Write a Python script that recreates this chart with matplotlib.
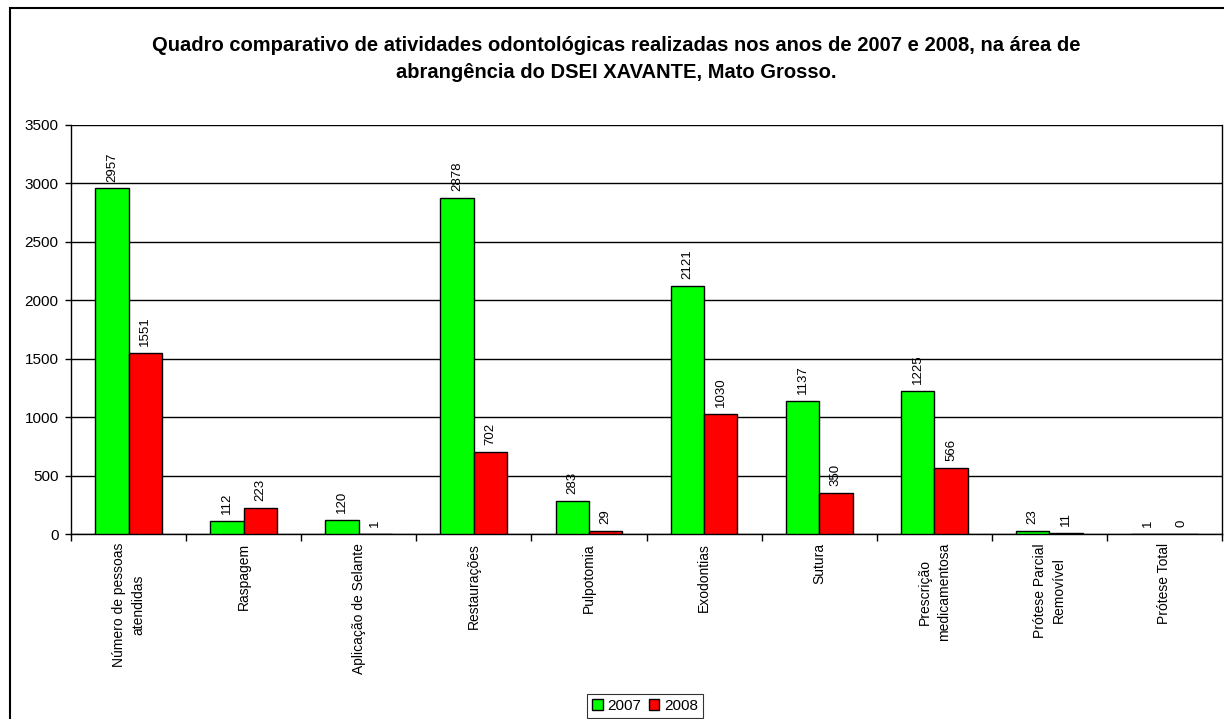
import matplotlib
matplotlib.use("Agg")
import matplotlib.pyplot as plt
import numpy as np
from matplotlib.patches import Rectangle

categories = [
    "Número de pessoas\natendidas",
    "Raspagem",
    "Aplicação de Selante",
    "Restaurações",
    "Pulpotomia",
    "Exodontias",
    "Sutura",
    "Prescrição\nmedicamentosa",
    "Prótese Parcial\nRemovível",
    "Prótese Total",
]
values_2007 = [2957, 112, 120, 2878, 283, 2121, 1137, 1225, 23, 1]
values_2008 = [1551, 223, 1, 702, 29, 1030, 350, 566, 11, 0]
series_labels = ["2007", "2008"]
series_colors = ["#00FF00", "#FF0000"]
y_ticks = [0, 500, 1000, 1500, 2000, 2500, 3000, 3500]

plt.rcParams["font.family"] = ["Liberation Sans", "DejaVu Sans"]

fig = plt.figure(figsize=(12.24, 7.19), dpi=100)
ax = fig.add_axes([71 / 1224, 1 - 534 / 719, (1222 - 71) / 1224, (534 - 125) / 719])

x = np.arange(len(categories))
width = 0.29
bars = []
for i, (vals, lab, col) in enumerate(zip([values_2007, values_2008], series_labels, series_colors)):
    offs = (i - 0.5) * width
    b = ax.bar(x + offs, vals, width, color=col, edgecolor="black", linewidth=1.0,
               label=lab, zorder=3)
    bars.append(b)
    for xi, v in zip(x + offs, vals):
        ax.annotate(str(v), (xi, v), xytext=(0, 5), textcoords="offset points",
                    rotation=90, ha="center", va="bottom", fontsize=9.5)

ax.set_xlim(-0.5, len(categories) - 0.5)
ax.set_ylim(0, 3500)
ax.set_yticks(y_ticks)
ax.tick_params(axis="y", labelsize=11, length=4, width=1, direction="out", pad=5)
ax.yaxis.grid(True, color="black", linewidth=1.0, zorder=0)
ax.set_axisbelow(True)

# category ticks sit on the boundaries between groups
ax.set_xticks(np.arange(len(categories) + 1) - 0.5)
ax.set_xticklabels([])
ax.tick_params(axis="x", length=5, width=1, direction="out")
for xi, lab in zip(x, categories):
    ax.text(xi, -0.022, lab, transform=ax.get_xaxis_transform(), rotation=90,
            ha="center", va="top", fontsize=10, multialignment="center",
            linespacing=1.45)

ax.spines["top"].set_visible(False)
for side in ["left", "bottom", "right"]:
    ax.spines[side].set_color("black")
    ax.spines[side].set_linewidth(1.0)

fig.text(616 / 1224, 1 - 59 / 719,
         "Quadro comparativo de atividades odontológicas realizadas nos anos de 2007 e 2008, na área de\n"
         "abrangência do DSEI XAVANTE, Mato Grosso.",
         ha="center", va="center", fontsize=14.5, fontweight="bold", linespacing=1.55,
         transform=fig.transFigure)

leg = fig.legend(handles=bars, labels=series_labels, loc="center",
                 bbox_to_anchor=(645 / 1224, 1 - 706 / 719), ncol=2, fontsize=11,
                 frameon=True, fancybox=False, edgecolor="black", handlelength=0.7,
                 handleheight=0.7, handletextpad=0.3, columnspacing=0.5,
                 borderpad=0.35, borderaxespad=0)
leg.get_frame().set_linewidth(0.8)

# outer chart frame
fig.patches.append(Rectangle((10 / 1224, -0.05), 1.2, (719 - 8) / 719 + 0.05,
                             transform=fig.transFigure, fill=False,
                             edgecolor="black", linewidth=1.5, clip_on=False))

fig.savefig("out.png", dpi=100, facecolor="white")
